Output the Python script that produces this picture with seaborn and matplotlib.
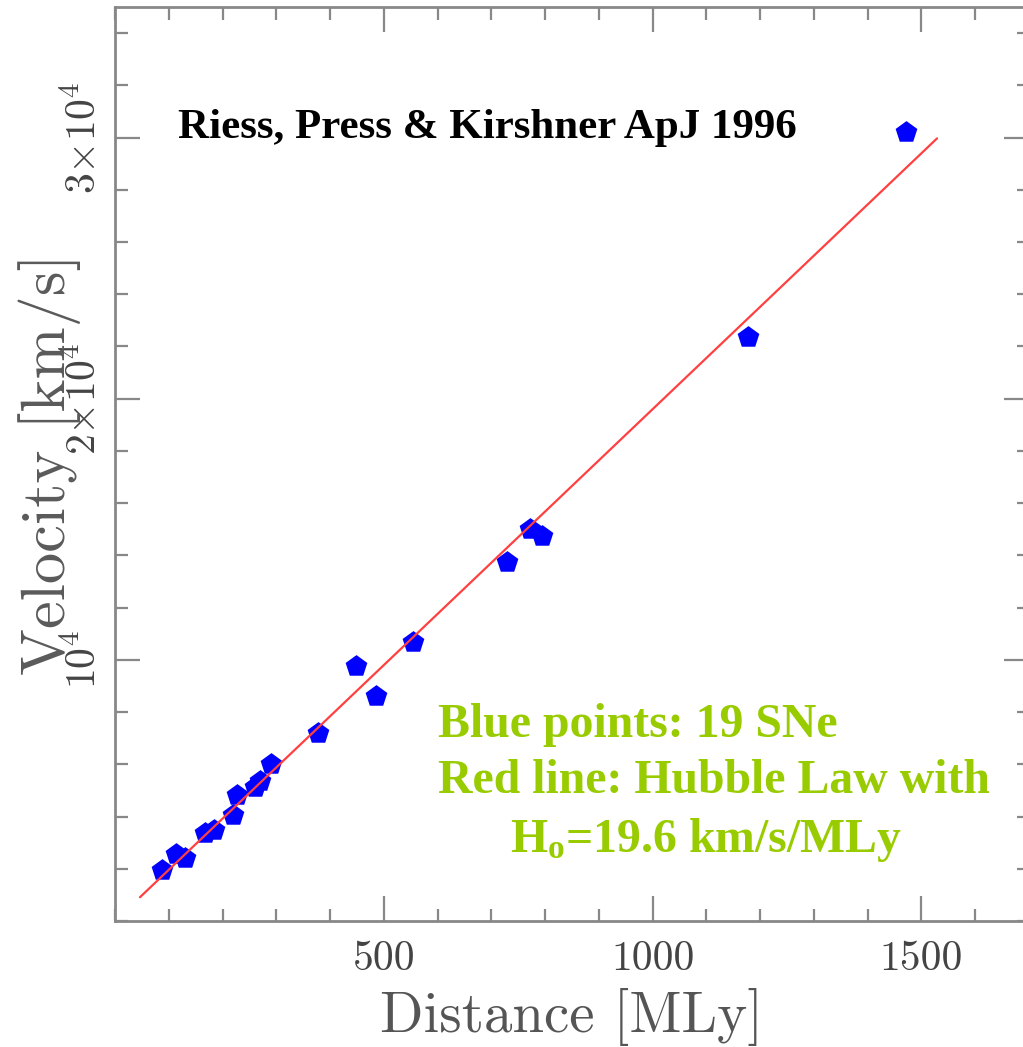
import numpy as np
import pandas as pd
import matplotlib
matplotlib.use("Agg")
import matplotlib.pyplot as plt
import matplotlib.ticker as mticker
import seaborn as sns

# 19 SNe Ia, distance in MLy and recession velocity in km/s
distance = [88, 113, 130, 167, 184, 219, 227, 260, 270, 290,
            377, 448, 485, 554, 729, 772, 794, 1177, 1471]
velocity = [1950, 2560, 2410, 3370, 3480, 4060, 4820, 5130, 5360, 6010,
            7190, 9760, 8610, 10680, 13740, 15000, 14730, 22350, 30230]

# Hubble law fit
H0 = 19.6
line_dist = [46.5, 1529]

x_ticks = [500, 1000, 1500]
x_ticklabels = ["500", "1000", "1500"]
y_ticks = [10000, 20000, 30000]
y_ticklabels = [r"$\mathrm{10^{4}}$", r"$\mathrm{2{\times}10^{4}}$", r"$\mathrm{3{\times}10^{4}}$"]

sns.set_style("ticks")
plt.rcParams["font.family"] = "cmr10"
plt.rcParams["mathtext.fontset"] = "custom"
plt.rcParams["mathtext.rm"] = "cmr10"
plt.rcParams["mathtext.bf"] = "Liberation Serif:bold"
plt.rcParams["mathtext.default"] = "rm"

df = pd.DataFrame({"distance": distance, "velocity": velocity})
fit = pd.DataFrame({"distance": line_dist, "velocity": [H0 * d for d in line_dist]})

W, H = 1023, 1047
fig = plt.figure(figsize=(W / 100, H / 100), dpi=100)
ax = fig.add_axes([115 / W, 1 - 921 / H, 914 / W, 914 / H])

sns.lineplot(data=fit, x="distance", y="velocity", ax=ax, color="#ff4040", lw=1.6, zorder=3)
sns.scatterplot(data=df, x="distance", y="velocity", ax=ax, marker="p", s=270,
                color="#0000ff", linewidth=0, zorder=2)

ax.set_xlim(0, 1700)
ax.set_ylim(0, 35000)
ax.set_xticks(x_ticks)
ax.set_xticklabels(x_ticklabels)
ax.set_yticks(y_ticks)
ax.set_yticklabels(y_ticklabels, rotation=90, va="center")
ax.xaxis.set_minor_locator(mticker.MultipleLocator(100))
ax.yaxis.set_minor_locator(mticker.MultipleLocator(2000))

grey = "#888888"
for sp in ax.spines.values():
    sp.set_color(grey)
    sp.set_linewidth(2)
ax.tick_params(which="both", direction="in", top=True, right=True, color=grey,
               width=1.6, labelcolor="#444444", labelsize=30)
ax.tick_params(which="major", length=18)
ax.tick_params(which="minor", length=9)
ax.tick_params(axis="x", pad=14)
ax.tick_params(axis="y", pad=8)

ax.set_xlabel("Distance [MLy]", fontsize=41, color="#555555")
ax.set_ylabel("Velocity [km/s]", fontsize=45, color="#5a5a5a")
ax.xaxis.set_label_coords(0.5, -0.073)
ax.yaxis.set_label_coords(-0.037, 0.5)

fig.text(178 / W, 1 - 138 / H, "Riess, Press & Kirshner ApJ 1996", ha="left", va="baseline",
         fontfamily="Liberation Serif", fontweight="bold", fontsize=31, color="black")

green = "#99cc00"
notes = ["Blue points: 19 SNe", "Red line: Hubble Law with", r"H$\mathbf{_o}$=19.6 km/s/MLy"]
note_pos = [(438, 737), (438, 793), (510, 852)]
for txt, (px, py) in zip(notes, note_pos):
    fig.text(px / W, 1 - py / H, txt, ha="left", va="baseline",
             fontfamily="Liberation Serif", fontweight="bold", fontsize=34.4, color=green)

fig.savefig("out.png", dpi=100)
